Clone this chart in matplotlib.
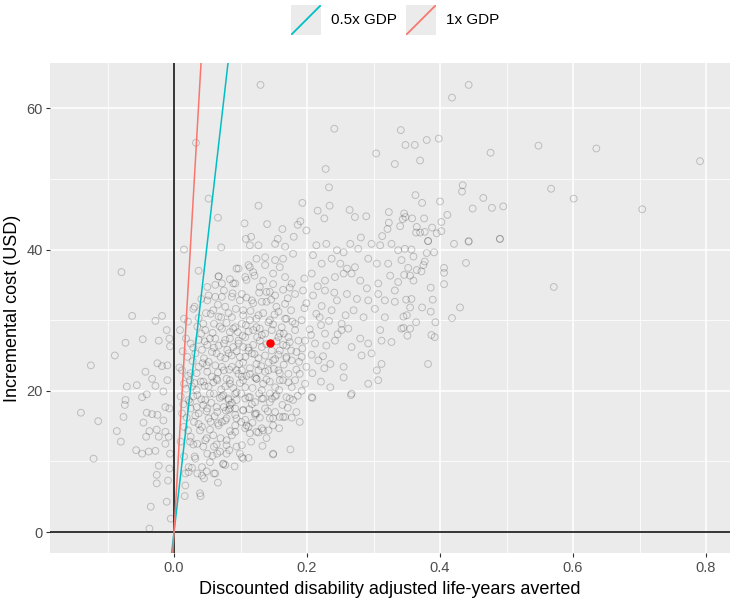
import matplotlib
matplotlib.use("Agg")
import matplotlib.pyplot as plt
from matplotlib.lines import Line2D
import numpy as np

plt.rcParams['font.family'] = ['Liberation Sans', 'DejaVu Sans']

# probabilistic sensitivity analysis draws (DALYs averted, incremental cost USD)
upper_draws = [
    (0.130, 63.3), (0.443, 63.3), (0.418, 61.5), (0.241, 57.1), (0.341, 56.9), (0.348, 54.8),
    (0.362, 54.8), (0.380, 55.5), (0.398, 55.7), (0.548, 54.7), (0.635, 54.3), (0.476, 53.7),
    (0.304, 53.6), (0.332, 52.1), (0.370, 52.6), (0.791, 52.5), (0.033, 55.1), (0.228, 51.4),
    (0.233, 48.8), (0.434, 49.1), (0.433, 48.2), (0.567, 48.6), (0.601, 47.2), (0.465, 47.3),
    (0.052, 47.2), (0.127, 46.2), (0.193, 46.6), (0.234, 46.2), (0.216, 45.5), (0.264, 45.6),
    (0.363, 47.7), (0.373, 46.6), (0.400, 46.8), (0.449, 45.8), (0.478, 45.9), (0.495, 46.1),
    (0.704, 45.7), (0.066, 44.5), (0.226, 44.4), (0.272, 44.6), (0.289, 44.7), (0.323, 45.3),
    (0.323, 43.8), (0.346, 45.1), (0.348, 44.6), (0.344, 44.3), (0.358, 44.4), (0.376, 44.4),
    (0.411, 44.9), (0.402, 43.9), (0.106, 43.7), (0.140, 43.6), (0.163, 42.9), (0.186, 43.5),
    (0.190, 44.0), (0.199, 42.7), (0.321, 42.9), (0.340, 43.3), (0.365, 43.2), (0.388, 43.1),
    (0.364, 42.4), (0.370, 42.4), (0.377, 42.5), (0.395, 42.3), (0.402, 42.6), (0.108, 41.5),
    (0.116, 41.8), (0.156, 41.5), (0.180, 41.8), (0.281, 41.7), (0.313, 41.9), (0.490, 41.5),
    (0.443, 41.1), (0.382, 41.2),
]

left_draws = [
    (-0.079, 36.8), (-0.063, 30.6), (-0.125, 23.6), (-0.140, 16.9), (-0.114, 15.7), (-0.121, 10.4),
    (-0.089, 25.0), (-0.073, 26.8), (-0.047, 27.3), (-0.023, 27.1), (-0.028, 29.9), (-0.018, 30.6),
    (-0.011, 28.6), (-0.007, 27.4), (-0.006, 26.3), (-0.025, 23.9), (-0.018, 23.5), (-0.010, 23.6),
    (-0.043, 22.7), (-0.071, 20.6), (-0.056, 20.8), (-0.041, 19.5), (-0.048, 19.1), (-0.033, 21.7),
    (-0.028, 20.7), (-0.016, 19.9), (-0.010, 21.5), (-0.073, 18.7), (-0.074, 18.0), (-0.076, 16.3),
    (-0.086, 14.3), (-0.080, 12.8), (-0.041, 16.9), (-0.033, 16.7), (-0.025, 16.6), (-0.016, 15.8),
    (-0.046, 15.5), (-0.037, 14.3), (-0.026, 14.5), (-0.023, 13.5), (-0.013, 14.2), (-0.008, 13.5),
    (-0.042, 13.5), (-0.057, 11.6), (-0.048, 11.1), (-0.038, 11.4), (-0.028, 11.5), (-0.013, 12.5),
    (-0.006, 11.1), (-0.023, 9.4), (-0.007, 9.0), (-0.026, 8.1), (-0.026, 6.9), (-0.009, 7.3),
    (-0.011, 4.3), (-0.035, 3.6), (-0.037, 0.5), (-0.005, 1.9), (-0.013, 17.7), (-0.007, 17.5),
    (0.015, 40.0), (0.071, 40.3), (0.037, 37.0), (0.067, 36.2), (0.031, 31.9), (0.015, 30.2),
    (0.009, 28.6), (0.016, 5.1), (0.040, 5.1), (0.017, 8.3), (0.035, 8.3), (0.045, 7.6),
    (0.060, 8.3), (0.022, 9.2), (0.031, 10.7), (0.042, 9.2), (0.050, 11.1), (0.065, 11.1),
    (0.074, 9.7), (0.015, 10.7), (0.010, 12.8), (0.025, 13.5), (0.035, 12.5), (0.047, 13.0),
    (0.060, 12.1), (0.070, 13.3), (0.015, 14.9), (0.030, 15.6), (0.042, 14.9), (0.055, 15.6),
    (0.067, 15.1), (0.077, 15.8), (0.012, 16.8), (0.025, 17.5), (0.037, 16.8), (0.050, 17.5),
    (0.065, 17.0), (0.075, 17.7), (0.010, 19.2), (0.022, 18.7), (0.035, 19.4), (0.047, 18.7),
    (0.060, 19.6), (0.072, 19.2), (0.082, 18.7), (0.015, 21.0), (0.027, 20.6), (0.040, 21.3),
    (0.052, 20.6), (0.065, 21.5), (0.077, 20.6), (0.012, 22.9), (0.025, 22.5), (0.037, 23.4),
    (0.050, 22.7), (0.062, 23.6), (0.075, 22.9), (0.020, 24.8), (0.032, 25.3), (0.045, 24.6),
    (0.057, 25.5), (0.070, 24.8), (0.080, 25.8), (0.025, 26.7), (0.037, 27.2), (0.050, 26.5),
    (0.062, 27.4), (0.075, 26.7), (0.035, 29.1), (0.047, 28.6), (0.060, 29.5), (0.072, 28.8),
    (0.055, 30.9), (0.067, 30.5), (0.077, 31.9), (0.050, 32.8), (0.062, 33.3), (0.075, 34.2),
    (0.050, 34.7), (0.072, 35.2),
]

centre_draws = [
    (0.114, 40.6), (0.127, 40.6), (0.152, 40.8), (0.167, 40.4), (0.214, 40.6), (0.229, 40.8),
    (0.245, 39.9), (0.255, 39.6), (0.265, 40.8), (0.277, 40.1), (0.297, 40.8), (0.310, 40.6),
    (0.327, 40.8), (0.337, 39.9), (0.097, 37.3), (0.112, 37.8), (0.124, 38.7), (0.137, 38.9),
    (0.152, 38.5), (0.164, 38.7), (0.179, 39.4), (0.209, 39.2), (0.222, 38.0), (0.237, 38.7),
    (0.250, 38.0), (0.260, 37.3), (0.272, 37.5), (0.292, 38.7), (0.305, 38.0), (0.322, 38.0),
    (0.342, 38.5), (0.092, 35.2), (0.107, 36.1), (0.119, 36.8), (0.134, 35.6), (0.149, 36.6),
    (0.167, 36.1), (0.177, 35.2), (0.207, 36.6), (0.227, 35.6), (0.242, 36.1), (0.255, 36.6),
    (0.267, 36.6), (0.280, 35.6), (0.290, 34.5), (0.307, 35.2), (0.325, 36.3), (0.337, 35.4),
    (0.332, 34.2), (0.087, 33.3), (0.102, 33.7), (0.117, 32.8), (0.132, 32.6), (0.139, 34.0),
    (0.152, 33.5), (0.167, 32.3), (0.182, 33.7), (0.194, 34.2), (0.209, 33.5), (0.227, 34.2),
    (0.245, 32.8), (0.260, 33.7), (0.275, 33.0), (0.292, 32.8), (0.307, 33.7), (0.317, 32.8),
    (0.332, 32.6), (0.087, 30.4), (0.104, 31.4), (0.114, 30.0), (0.127, 30.7), (0.142, 29.7),
    (0.157, 31.2), (0.169, 30.2), (0.182, 29.5), (0.192, 30.0), (0.219, 30.4), (0.237, 31.4),
    (0.252, 29.5), (0.270, 31.4), (0.285, 30.4), (0.302, 31.6), (0.317, 30.4), (0.342, 28.8),
    (0.310, 28.6), (0.084, 28.3), (0.097, 27.1), (0.107, 27.6), (0.119, 28.6), (0.129, 27.1),
    (0.157, 27.6), (0.169, 26.4), (0.182, 28.6), (0.197, 27.1), (0.212, 26.7), (0.227, 28.1),
    (0.242, 27.1), (0.252, 28.6), (0.262, 28.8), (0.267, 26.2), (0.280, 27.4), (0.292, 26.7),
    (0.312, 27.1), (0.327, 26.9), (0.082, 25.3), (0.099, 24.8), (0.112, 25.7), (0.124, 23.8),
    (0.137, 25.0), (0.152, 24.5), (0.169, 24.8), (0.184, 25.5), (0.199, 23.4), (0.217, 24.3),
    (0.235, 23.8), (0.255, 23.4), (0.282, 25.0), (0.297, 25.3), (0.312, 23.8), (0.305, 22.9),
    (0.084, 21.5), (0.097, 22.4), (0.107, 20.5), (0.122, 21.9), (0.134, 21.0), (0.144, 19.6),
    (0.159, 21.5), (0.177, 20.5), (0.189, 22.4), (0.197, 21.0), (0.207, 19.1), (0.235, 20.5),
    (0.255, 21.9), (0.267, 19.6), (0.292, 21.0), (0.307, 21.5), (0.092, 29.0), (0.102, 29.5),
    (0.124, 29.0), (0.137, 28.1), (0.147, 28.6), (0.162, 29.0), (0.172, 27.6), (0.187, 27.1),
    (0.089, 26.2), (0.104, 26.2), (0.117, 25.3), (0.132, 26.2), (0.147, 25.7), (0.159, 25.7),
    (0.177, 24.3), (0.192, 24.8), (0.087, 23.4), (0.102, 22.9), (0.114, 22.4), (0.127, 22.9),
    (0.142, 22.9), (0.157, 22.9), (0.172, 22.4), (0.092, 19.6), (0.112, 19.1), (0.132, 20.1),
    (0.152, 20.5), (0.169, 19.1), (0.182, 21.5),
]

lower_draws = [
    (0.082, 18.9), (0.094, 18.7), (0.107, 18.9), (0.122, 18.4), (0.132, 18.9), (0.144, 18.4),
    (0.152, 19.2), (0.174, 18.9), (0.179, 18.7), (0.208, 19.0), (0.266, 19.4), (0.082, 17.3),
    (0.092, 17.5), (0.104, 17.3), (0.122, 16.8), (0.137, 17.5), (0.152, 17.0), (0.184, 17.0),
    (0.167, 16.3), (0.159, 16.3), (0.177, 16.2), (0.079, 16.1), (0.092, 16.6), (0.109, 15.1),
    (0.149, 16.1), (0.189, 15.6), (0.149, 15.1), (0.092, 14.2), (0.107, 14.7), (0.114, 14.0),
    (0.124, 14.2), (0.132, 14.7), (0.142, 14.4), (0.139, 13.3), (0.079, 12.3), (0.079, 11.1),
    (0.099, 11.1), (0.104, 10.4), (0.149, 11.0), (0.175, 11.7), (0.077, 9.5), (0.122, 16.6),
    (0.107, 15.9), (0.084, 18.0),
]

right_draws = [
    (0.382, 41.2), (0.421, 40.8), (0.443, 41.2), (0.490, 41.5), (0.347, 40.1), (0.357, 40.0),
    (0.360, 39.0), (0.380, 39.5), (0.391, 39.6), (0.377, 38.3), (0.375, 37.8), (0.439, 38.1),
    (0.352, 37.4), (0.365, 37.1), (0.372, 36.9), (0.346, 36.4), (0.355, 36.3), (0.406, 37.4),
    (0.406, 36.7), (0.360, 35.6), (0.386, 34.6), (0.406, 35.1), (0.571, 34.7), (0.349, 32.9),
    (0.357, 33.0), (0.389, 32.9), (0.355, 31.8), (0.373, 31.8), (0.386, 31.2), (0.430, 31.8),
    (0.345, 30.5), (0.350, 30.7), (0.364, 29.7), (0.393, 29.7), (0.418, 30.3), (0.345, 28.9),
    (0.355, 28.8), (0.351, 27.8), (0.387, 27.9), (0.392, 27.6), (0.382, 23.8),
]

core_draws = [
    (0.067, 36.2), (0.094, 37.3), (0.114, 37.5), (0.137, 37.8), (0.159, 37.5), (0.089, 35.2),
    (0.109, 35.7), (0.129, 34.7), (0.144, 34.0), (0.164, 34.3), (0.052, 33.5), (0.072, 33.3),
    (0.099, 32.8), (0.119, 32.4), (0.139, 32.6), (0.154, 31.9), (0.029, 31.6), (0.059, 31.4),
    (0.082, 31.0), (0.104, 30.7), (0.124, 30.2), (0.144, 30.0), (0.167, 30.2), (0.044, 29.5),
    (0.069, 29.1), (0.089, 28.8), (0.112, 28.4), (0.132, 27.9), (0.159, 28.1), (0.054, 27.4),
    (0.077, 27.2), (0.097, 26.7), (0.119, 26.5), (0.164, 26.5), (0.042, 25.8), (0.064, 25.3),
    (0.087, 25.0), (0.107, 24.8), (0.127, 24.6), (0.149, 24.3), (0.169, 24.6), (0.049, 23.6),
    (0.072, 23.4), (0.094, 22.9), (0.114, 23.2), (0.137, 22.7), (0.159, 22.5), (0.034, 22.5),
    (0.057, 22.0), (0.079, 21.7), (0.102, 22.0), (0.124, 21.7),
    (0.024, 21.5), (0.044, 21.3), (0.064, 21.7), (0.084, 21.0), (0.104, 21.5), (0.124, 21.7),
    (0.144, 21.3), (0.164, 21.5), (0.034, 20.1), (0.054, 19.6), (0.074, 19.4), (0.094, 19.8),
    (0.114, 19.1), (0.134, 18.9), (0.154, 19.4), (0.024, 18.4), (0.044, 18.0), (0.064, 17.7),
    (0.084, 17.5), (0.104, 17.2), (0.124, 16.8), (0.144, 16.1), (0.164, 16.3), (0.032, 16.5),
    (0.052, 16.1), (0.072, 15.6), (0.092, 15.1), (0.112, 14.9), (0.134, 14.4), (0.039, 14.4),
    (0.059, 13.7), (0.079, 13.0), (0.102, 12.3), (0.024, 12.8), (0.044, 12.1), (0.069, 11.4),
    (0.149, 11.1), (0.032, 10.4), (0.054, 9.9), (0.074, 9.6), (0.102, 10.6), (0.022, 8.5),
    (0.042, 8.0), (0.062, 8.3), (0.017, 6.6), (0.039, 5.5),
]

# extra overlapping circles in the densest part of the cloud
dense_draws = [
    (0.084, 35.8), (0.121, 36.3), (0.149, 35.1), (0.174, 34.6), (0.196, 35.9), (0.216, 34.8),
    (0.062, 35.0), (0.041, 33.0), (0.066, 32.2), (0.088, 33.8), (0.109, 33.2), (0.128, 33.9),
    (0.146, 32.9), (0.171, 33.1), (0.199, 32.4), (0.222, 32.0), (0.241, 33.9), (0.037, 30.3),
    (0.048, 31.0), (0.071, 30.4), (0.093, 31.6), (0.115, 31.3), (0.134, 31.0), (0.151, 30.8),
    (0.176, 31.4), (0.196, 31.7), (0.214, 30.9), (0.233, 29.9), (0.258, 30.7), (0.021, 29.8),
    (0.041, 28.1), (0.058, 28.2), (0.079, 29.6), (0.096, 28.3), (0.108, 29.3), (0.129, 28.8),
    (0.149, 29.4), (0.165, 28.1), (0.178, 29.8), (0.204, 28.7), (0.221, 29.3), (0.246, 28.0),
    (0.018, 27.4), (0.029, 26.1), (0.046, 27.0), (0.067, 26.4), (0.084, 27.4), (0.103, 27.8),
    (0.112, 26.1), (0.125, 27.6), (0.139, 26.6), (0.154, 27.0), (0.174, 26.9), (0.193, 26.0),
    (0.206, 27.9), (0.229, 26.4), (0.013, 25.6), (0.028, 24.2), (0.052, 24.1), (0.060, 26.1),
    (0.077, 24.6), (0.094, 25.6), (0.104, 24.0), (0.121, 25.2), (0.142, 24.0), (0.157, 25.1),
    (0.176, 25.7), (0.188, 24.1), (0.207, 25.1), (0.224, 24.9), (0.008, 23.3), (0.021, 22.1),
    (0.043, 23.9), (0.066, 22.6), (0.083, 23.0), (0.098, 23.8), (0.109, 22.1), (0.131, 23.5),
    (0.150, 23.1), (0.165, 23.7), (0.184, 23.0), (0.208, 22.5), (0.226, 23.2), (0.018, 20.3),
    (0.031, 21.1), (0.046, 20.7), (0.059, 21.2), (0.071, 20.2), (0.089, 20.4), (0.099, 21.1),
    (0.118, 20.4), (0.139, 21.6), (0.158, 20.1), (0.172, 21.2), (0.192, 20.0), (0.221, 21.3),
    (0.014, 18.1), (0.029, 19.2), (0.041, 18.8), (0.056, 18.3), (0.069, 19.0), (0.087, 18.3),
    (0.101, 19.6), (0.117, 18.1), (0.128, 19.6), (0.147, 18.9), (0.163, 18.0), (0.186, 19.3),
    (0.019, 16.2), (0.034, 17.7), (0.049, 17.1), (0.061, 16.4), (0.078, 17.2), (0.094, 16.1),
    (0.113, 17.4), (0.129, 16.2), (0.141, 17.1), (0.171, 17.6), (0.021, 14.4), (0.037, 15.3),
    (0.054, 14.5), (0.066, 15.4), (0.084, 14.3), (0.101, 15.6), (0.118, 15.5), (0.127, 14.1),
    (0.158, 14.7), (0.029, 12.4), (0.049, 13.3), (0.064, 12.4), (0.087, 13.7), (0.094, 12.1),
    (0.116, 12.8), (0.133, 12.2), (0.027, 9.1), (0.058, 10.8), (0.083, 11.6), (0.091, 9.3),
    (0.112, 10.5), (0.049, 8.6), (0.066, 7.0),
]

mean_daly = 0.145
mean_cost = 26.8
gdp_per_capita = 1636  # USD per DALY, 1x GDP threshold
threshold_labels = ['0.5x GDP', '1x GDP']
threshold_mult = [0.5, 1.0]
threshold_colors = ['#00BFC4', '#F8766D']

draws = (upper_draws + left_draws + centre_draws + lower_draws + right_draws
         + core_draws + dense_draws)
dalys = np.array([d[0] for d in draws])
costs = np.array([d[1] for d in draws])

fig = plt.figure(figsize=(7.33, 6.0), dpi=100)
ax = fig.add_axes([50 / 733, 1 - 553.3 / 600, 680 / 733, 490.3 / 600])
ax.set_facecolor('#EBEBEB')
for s in ax.spines.values():
    s.set_visible(False)

ax.set_xlim(-0.1865, 0.836)
ax.set_ylim(-3.0, 66.4)
ax.set_xticks([0.0, 0.2, 0.4, 0.6, 0.8])
ax.set_xticklabels(['0.0', '0.2', '0.4', '0.6', '0.8'])
ax.set_xticks([-0.1, 0.1, 0.3, 0.5, 0.7], minor=True)
ax.set_yticks([0, 20, 40, 60])
ax.set_yticks([10, 30, 50], minor=True)
ax.grid(which='major', color='white', linewidth=1.1)
ax.grid(which='minor', color='white', linewidth=0.55)
ax.set_axisbelow(True)
ax.tick_params(which='major', length=2.75, width=0.8, color='#333333',
               labelcolor='#4D4D4D', labelsize=10.5, pad=2.5)
ax.tick_params(which='minor', length=0)

ax.scatter(dalys, costs, s=24, facecolors='none', edgecolors=(0, 0, 0, 0.2),
           linewidths=0.7, zorder=2)

ax.axhline(0, color='black', linewidth=1.1, zorder=3)
ax.axvline(0, color='black', linewidth=1.1, zorder=3)

xs = np.array([-0.01, 0.1])
for m, c in zip(threshold_mult, threshold_colors):
    ax.plot(xs, m * gdp_per_capita * xs, color=c, linewidth=1.1, zorder=3)

ax.scatter([mean_daly], [mean_cost], s=26, color='#FF0000', zorder=4)

ax.set_xlabel('Discounted disability adjusted life-years averted', fontsize=13, labelpad=4.5)
ax.set_ylabel('Incremental cost (USD)', fontsize=13, labelpad=4)

# legend drawn as ggplot-style keys above the panel
key_x = [291, 406]
for lab, c, kx in zip(threshold_labels, threshold_colors, key_x):
    kax = fig.add_axes([kx / 733, 1 - 35 / 600, 30 / 733, 30 / 600])
    kax.set_facecolor('#EBEBEB')
    kax.set_xlim(0, 1)
    kax.set_ylim(0, 1)
    kax.set_xticks([])
    kax.set_yticks([])
    for s in kax.spines.values():
        s.set_visible(False)
    kax.add_line(Line2D([0.03, 0.97], [0.03, 0.97], color=c, linewidth=1.3))
    fig.text((kx + 40) / 733, 1 - 20 / 600, lab, fontsize=11, va='center', ha='left')

fig.savefig('out.png', dpi=100)
